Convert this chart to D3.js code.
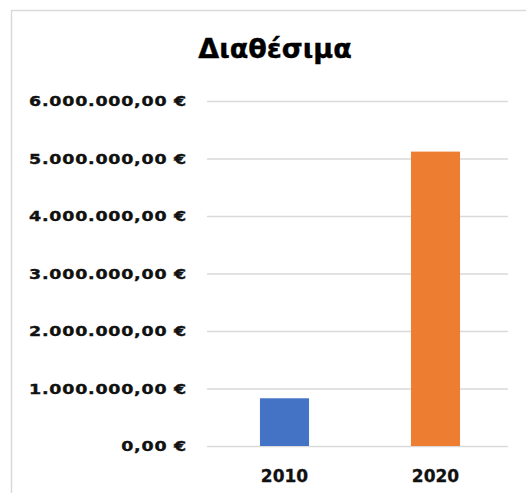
<!DOCTYPE html>
<html>
<head>
<meta charset="utf-8">
<script src="https://cdn.jsdelivr.net/npm/d3@7"></script>
<style>
  html, body { margin: 0; padding: 0; background: #fff; }
  svg { display: block; }
</style>
</head>
<body>
<div id="chart"></div>
<script>
// Data
const years = ["2010", "2020"];
const amounts = [830000, 5120000];
const barColors = ["#4472C4", "#ED7D31"];
const tickValues = [0, 1000000, 2000000, 3000000, 4000000, 5000000, 6000000];
const tickLabels = ["0,00 €", "1.000.000,00 €", "2.000.000,00 €", "3.000.000,00 €", "4.000.000,00 €", "5.000.000,00 €", "6.000.000,00 €"];
const title = "Διαθέσιμα";

const W = 526, H = 493;
const svg = d3.select("#chart").append("svg").attr("width", W).attr("height", H);

// Outer frame
svg.append("rect")
  .attr("x", 11.5).attr("y", 10.5)
  .attr("width", W + 10).attr("height", H + 10)
  .attr("fill", "#fff").attr("stroke", "#d9d9d9").attr("stroke-width", 1.5);

const plot = { left: 207, right: 508, top: 101, bottom: 446 };

const y = d3.scaleLinear().domain([0, 6000000]).range([plot.bottom, plot.top]);
const x = d3.scaleBand().domain(years).range([209, 511])
  .paddingInner(0.675).paddingOuter(0.3375);

// Gridlines and value labels
const yAxis = d3.axisLeft(y).tickValues(tickValues)
  .tickSize(-(plot.right - plot.left))
  .tickFormat((d, i) => tickLabels[i]);

const gy = svg.append("g").attr("transform", `translate(${plot.left},0)`).call(yAxis);
gy.select(".domain").remove();
gy.selectAll(".tick line").attr("stroke", "#d9d9d9").attr("stroke-width", 1.5);
const yText = gy.selectAll(".tick text")
  .attr("dy", "0.36em")
  .attr("fill", "#111")
  .attr("stroke", "#111")
  .attr("stroke-width", 0.35)
  .style("font-family", "'DejaVu Sans', sans-serif")
  .style("font-weight", "bold")
  .style("font-size", "13.5px")
  .style("letter-spacing", "0.6px");

// Widen the labels so the longest one spans the label column
const widest = d3.max(yText.nodes(), n => n.getComputedTextLength());
const stretch = 158 / widest;
const labelRight = -20;
yText.attr("x", labelRight / stretch)
  .attr("transform", `scale(${stretch},1)`);

// Bars
svg.append("g").selectAll("rect")
  .data(years)
  .join("rect")
  .attr("x", d => x(d))
  .attr("width", x.bandwidth())
  .attr("y", (d, i) => y(amounts[i]))
  .attr("height", (d, i) => y(0) - y(amounts[i]))
  .attr("fill", (d, i) => barColors[i]);

// Category axis
const xAxis = d3.axisBottom(x).tickSize(0).tickPadding(0);
const gx = svg.append("g").attr("transform", `translate(0,${plot.bottom})`).call(xAxis);
gx.select(".domain").remove();
gx.selectAll(".tick text")
  .attr("y", 36).attr("dy", 0)
  .attr("fill", "#111")
  .attr("stroke", "#111")
  .attr("stroke-width", 0.3)
  .style("font-family", "'DejaVu Sans', sans-serif")
  .style("font-weight", "bold")
  .style("font-size", "17px");

// Title
svg.append("text")
  .attr("x", 275).attr("y", 58)
  .attr("text-anchor", "middle")
  .attr("fill", "#000")
  .attr("stroke", "#000")
  .attr("stroke-width", 0.4)
  .style("font-family", "'DejaVu Sans', sans-serif")
  .style("font-weight", "bold")
  .style("font-size", "27px")
  .text(title);
</script>
</body>
</html>
